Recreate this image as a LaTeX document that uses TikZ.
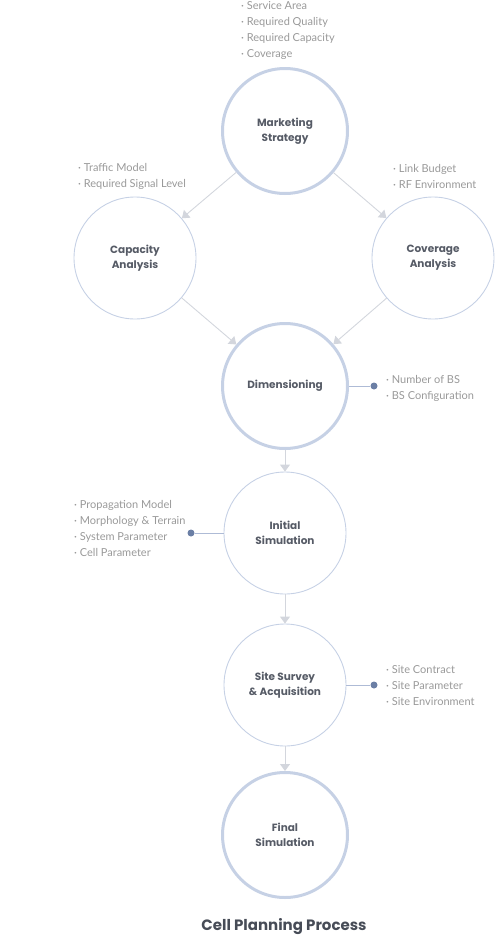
\documentclass[tikz,border=0pt]{standalone}
\usepackage{fontspec}
\setmainfont{Poppins}
\newfontfamily\listfont{Lato}
\usetikzlibrary{arrows.meta}
\definecolor{ringc}{HTML}{C6D1E5}
\definecolor{linec}{HTML}{D3D6DD}
\definecolor{dotc}{HTML}{6B7FA5}
\definecolor{dotline}{HTML}{AEBBD6}
\definecolor{txtc}{HTML}{565B66}
\definecolor{listc}{HTML}{999999}
\definecolor{titlec}{HTML}{474C57}
\begin{document}
\begin{tikzpicture}[x=1pt,y=-1pt,
  bigstep/.style={circle, draw=ringc, line width=3pt, minimum size=125pt, inner sep=0pt,
    align=center, text=txtc, font=\fontsize{10.5}{15}\selectfont\bfseries},
  smallstep/.style={circle, draw=ringc, line width=0.9pt, minimum size=122pt, inner sep=0pt,
    align=center, text=txtc, font=\fontsize{10.5}{15}\selectfont\bfseries},
  flow/.style={draw=linec, line width=0.9pt, -{Triangle[width=10pt,length=7pt]}},
  dotnode/.style={circle, fill=dotc, minimum size=7pt, inner sep=0pt},
  dotlink/.style={draw=dotline, line width=0.9pt},
  itemlist/.style={anchor=west, align=left, inner sep=0pt, text=listc,
    font=\listfont\fontsize{11}{16}\selectfont},
]
\useasboundingbox (0,0) rectangle (495,937);

% circles
\node[bigstep] (mkt) at (285,131) {Marketing\\Strategy};
\node[smallstep] (cap) at (135,258) {Capacity\\Analysis};
\node[smallstep] (cov) at (433,258) {Coverage\\Analysis};
\node[bigstep] (dim) at (285,386) {Dimensioning};
\node[smallstep] (ini) at (285,533) {Initial\\Simulation};
\node[smallstep] (site) at (285,685) {Site Survey\\\& Acquisition};
\node[bigstep] (fin) at (285,835) {Final\\Simulation};

% flow connectors
\draw[flow] (mkt) -- (cap);
\draw[flow] (mkt) -- (cov);
\draw[flow] (cap) -- (dim);
\draw[flow] (cov) -- (dim);
\draw[flow] (dim) -- (ini);
\draw[flow] (ini) -- (site);
\draw[flow] (site) -- (fin);

% dots
\node[dotnode] (d1) at (374,386) {};
\node[dotnode] (d2) at (191,533) {};
\node[dotnode] (d3) at (374,685) {};
\draw[dotlink] (dim) -- (d1);
\draw[dotlink] (ini) -- (d2);
\draw[dotlink] (site) -- (d3);

% lists
\node[itemlist] (l1) at (241,30) {· Service Area\\· Required Quality\\· Required Capacity\\· Coverage};
\node[itemlist] (l2) at (78,176) {· Traffic Model\\· Required Signal Level};
\node[itemlist] (l3) at (393,176) {· Link Budget\\· RF Environment};
\node[itemlist] (l4) at (386,388) {· Number of BS\\· BS Configuration};
\node[itemlist] (l5) at (74,528) {· Propagation Model\\· Morphology \& Terrain\\· System Parameter\\· Cell Parameter};
\node[itemlist] (l6) at (386,686) {· Site Contract\\· Site Parameter\\· Site Environment};

% title
\node[text=titlec, font=\fontsize{15}{17}\selectfont\bfseries, inner sep=0pt] (title) at (284,927) {Cell Planning Process};
\end{tikzpicture}
\end{document}
